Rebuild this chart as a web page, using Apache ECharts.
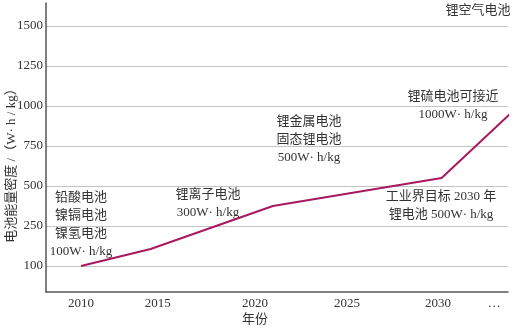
<!DOCTYPE html>
<html>
<head>
<meta charset="utf-8">
<script src="https://cdn.jsdelivr.net/npm/echarts@6/dist/echarts.min.js"></script>
<style>html,body{margin:0;padding:0;background:#fff}#c{width:514px;height:330px}</style>
</head>
<body>
<div id="c"></div>
<script>
// ---- data ----
var yTickValues = [100, 250, 500, 750, 1000, 1250, 1500];
var xTickLabels = ['2010', '2015', '2020', '2025', '2030', '…'];
var xTickYears = [2010, 2014.3, 2019.75, 2024.9, 2030, 2033.15];
var lineYears = [2010, 2013.9, 2020.75, 2030.2, 2034.15];
var lineValues = [100, 164, 375, 550, 962];
var notes = [
  '铅酸电池\n镍镉电池\n镍氢电池\n100W· h/kg',
  '锂离子电池\n300W· h/kg',
  '锂金属电池\n固态锂电池\n500W· h/kg',
  '锂硫电池可接近\n1000W· h/kg',
  '工业界目标 2030 年\n锂电池 500W· h/kg',
  '锂空气电池'
];
var yName = '电池能量密度 /（W· h / kg）';
var xName = '年份';

// piecewise mapping of values onto the evenly spaced tick scale
function toAxis(v) {
  for (var i = 0; i < yTickValues.length - 1; i++) {
    if (v <= yTickValues[i + 1]) {
      return i + (v - yTickValues[i]) / (yTickValues[i + 1] - yTickValues[i]);
    }
  }
  return yTickValues.length - 1;
}
var yIdx = yTickValues.map(function (v, i) { return i; });
var seriesData = lineYears.map(function (x, i) { return [x, toAxis(lineValues[i])]; });

var FONT = '"Liberation Serif", "Noto Sans CJK SC", serif';
var notePos = [[81, 225], [208, 204], [309, 140], [453, 106], [441, 206], [478, 11]];

var chart = echarts.init(document.getElementById('c'));
chart.setOption({
  animation: false,
  grid: { left: 46, right: 6, top: 3, bottom: 38, containLabel: false, outerBoundsMode: 'none' },
  xAxis: {
    type: 'value', min: 2008.04, max: 2033.92,
    name: xName, nameLocation: 'middle', nameGap: 21, nameMoveOverlap: false,
    nameTextStyle: { fontFamily: FONT, fontSize: 13, color: '#333', padding: [0, 44, 0, 0] },
    axisLine: { show: true, onZero: false, lineStyle: { color: '#555', width: 1.5 } },
    axisTick: { show: false, customValues: xTickYears },
    splitLine: { show: false },
    axisLabel: {
      customValues: xTickYears, margin: 5, color: '#333', fontFamily: FONT, fontSize: 13,
      hideOverlap: false,
      formatter: function (v) {
        var k = xTickYears.indexOf(v);
        return k >= 0 ? xTickLabels[k] : '';
      }
    }
  },
  yAxis: {
    type: 'value', min: -0.65, max: 6.575,
    name: yName, nameLocation: 'middle', nameGap: 28, nameMoveOverlap: false,
    nameTextStyle: { fontFamily: FONT, fontSize: 13, color: '#333', padding: [0, 30, 0, 0] },
    axisLine: { show: true, onZero: false, lineStyle: { color: '#555', width: 1.5 } },
    axisTick: { show: false, customValues: yIdx },
    splitLine: { show: true, lineStyle: { color: '#c4c4c4', width: 1 } },
    axisLabel: {
      customValues: yIdx, margin: 3, color: '#333', fontFamily: FONT, fontSize: 13,
      formatter: function (v) { return String(yTickValues[Math.round(v)]); }
    }
  },
  series: [{
    type: 'line', data: seriesData, symbol: 'none', clip: false,
    lineStyle: { color: '#a8185f', width: 2 }
  }],
  graphic: notes.map(function (t, i) {
    return {
      type: 'text', x: notePos[i][0], y: notePos[i][1],
      style: {
        text: t, font: '13px ' + FONT, fill: '#333', lineHeight: 18,
        align: 'center', verticalAlign: 'middle'
      }
    };
  })
});
</script>
</body>
</html>
